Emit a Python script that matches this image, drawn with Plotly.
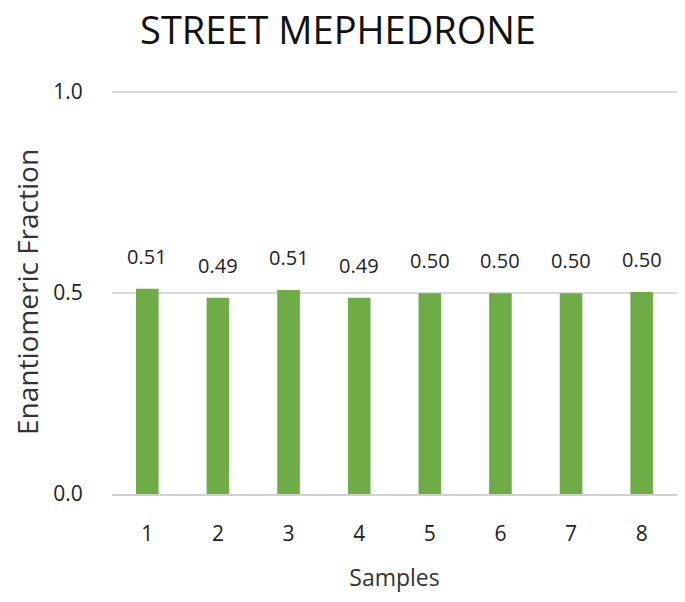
import plotly.graph_objects as go

samples = ["1", "2", "3", "4", "5", "6", "7", "8"]
ef_values = [0.51, 0.488, 0.507, 0.488, 0.499, 0.499, 0.499, 0.502]
ef_labels = ["0.51", "0.49", "0.51", "0.49", "0.50", "0.50", "0.50", "0.50"]
y_ticks = [0.0, 0.5, 1.0]
y_tick_labels = ["0.0", "0.5", "1.0"]

font_family = "Open Sans, Lato, sans-serif"

fig = go.Figure(
    go.Bar(
        x=samples,
        y=ef_values,
        marker=dict(color="#6fac45", line=dict(width=0)),
        width=0.32,
    )
)

# value labels above each bar (category index position on the category axis)
for i, (v, lab) in enumerate(zip(ef_values, ef_labels)):
    fig.add_annotation(
        x=i, y=v, xref="x", yref="y", text=lab, showarrow=False,
        yanchor="bottom", yshift=17,
        font=dict(size=20, color="#222222", family=font_family),
    )

fig.update_layout(
    width=677,
    height=594,
    paper_bgcolor="white",
    plot_bgcolor="white",
    margin=dict(l=104, r=8, t=82, b=108),
    showlegend=False,
    title=dict(
        text="STREET MEPHEDRONE",
        x=0.4875,
        xanchor="center",
        y=0.962,
        yanchor="middle",
        font=dict(size=38, color="#111111", family=font_family),
    ),
    font=dict(family=font_family, color="#222222"),
)

fig.update_xaxes(
    title=dict(text="Samples", font=dict(size=23, color="#333333"), standoff=24),
    tickfont=dict(size=21, color="#222222"),
    showline=True,
    linecolor="#d0d0d0",
    linewidth=2,
    ticks="outside",
    tickcolor="white",
    ticklen=20,
)

fig.update_yaxes(
    title=dict(text="Enantiomeric Fraction", font=dict(size=28, color="#333333"), standoff=14),
    range=[0, 1.004],
    tickvals=y_ticks,
    ticktext=y_tick_labels,
    tickfont=dict(size=21, color="#222222"),
    showgrid=True,
    gridcolor="#d9d9d9",
    gridwidth=2,
    zeroline=False,
    ticks="outside",
    tickcolor="white",
    ticklen=24,
)

fig.write_html("out.html")
